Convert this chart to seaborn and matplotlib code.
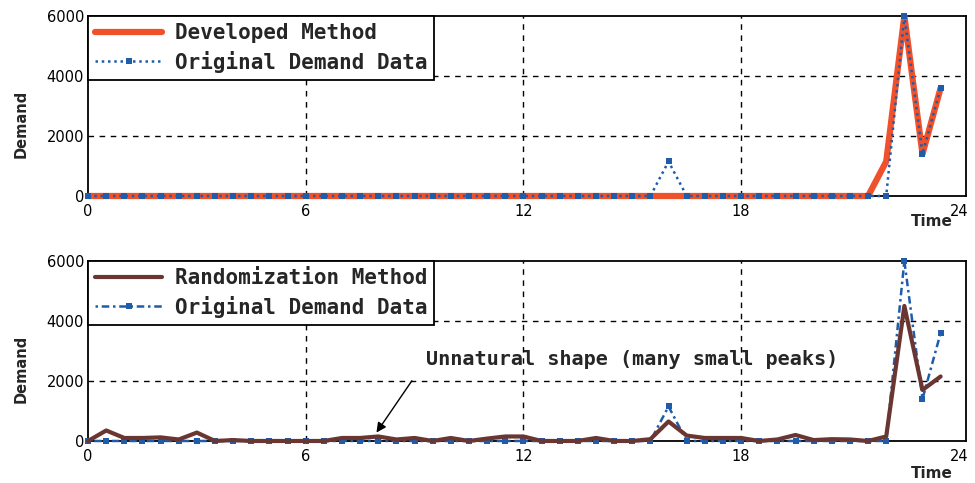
import numpy as np
import pandas as pd
import matplotlib
matplotlib.use("Agg")
import matplotlib.pyplot as plt
import seaborn as sns

# half-hour time steps
time = [0.0, 0.5, 1.0, 1.5, 2.0, 2.5, 3.0, 3.5, 4.0, 4.5, 5.0, 5.5,
        6.0, 6.5, 7.0, 7.5, 8.0, 8.5, 9.0, 9.5, 10.0, 10.5, 11.0, 11.5,
        12.0, 12.5, 13.0, 13.5, 14.0, 14.5, 15.0, 15.5, 16.0, 16.5, 17.0, 17.5,
        18.0, 18.5, 19.0, 19.5, 20.0, 20.5, 21.0, 21.5, 22.0, 22.5, 23.0, 23.5]

original = [0, 0, 0, 0, 0, 0, 0, 0, 0, 0, 0, 0,
            0, 0, 0, 0, 0, 0, 0, 0, 0, 0, 0, 0,
            0, 0, 0, 0, 0, 0, 0, 0, 1150, 0, 0, 0,
            0, 0, 0, 0, 0, 0, 0, 0, 0, 6000, 1400, 3600]

developed = [0, 0, 0, 0, 0, 0, 0, 0, 0, 0, 0, 0,
             0, 0, 0, 0, 0, 0, 0, 0, 0, 0, 0, 0,
             0, 0, 0, 0, 0, 0, 0, 0, 0, 0, 0, 0,
             0, 0, 0, 0, 0, 0, 0, 0, 1150, 6000, 1400, 3600]

randomized = [0, 350, 100, 100, 120, 50, 280, 0, 30, 0, 0, 0,
              0, 0, 100, 100, 150, 50, 100, 0, 100, 0, 80, 150,
              150, 0, 0, 0, 100, 0, 0, 60, 650, 180, 100, 100,
              100, 0, 50, 200, 30, 60, 50, 0, 150, 4500, 1700, 2150]

df = pd.DataFrame({"Time": time, "Original": original,
                   "Developed": developed, "Randomized": randomized})

sns.set_style("white")
plt.rcParams["font.family"] = ["DejaVu Sans"]

ORANGE = "#F0502A"
BLUE = "#1F5CAA"
BROWN = "#6A3631"
leg_font = {"family": "DejaVu Sans Mono", "weight": "bold", "size": 15}

fig = plt.figure(figsize=(9.75, 4.83), dpi=100)
ax1 = fig.add_axes([0.0903, 0.5942, 0.9005, 0.3727])
ax2 = fig.add_axes([0.0903, 0.087, 0.9005, 0.3727])

sns.lineplot(data=df, x="Time", y="Developed", ax=ax1, color=ORANGE,
             linewidth=4.5, label="Developed Method", clip_on=False, zorder=3)
sns.lineplot(data=df, x="Time", y="Original", ax=ax1, color=BLUE,
             linewidth=1.8, linestyle=(0, (1, 1.5)), marker="s", markersize=4,
             markeredgewidth=0, label="Original Demand Data", clip_on=False, zorder=4)

sns.lineplot(data=df, x="Time", y="Randomized", ax=ax2, color=BROWN,
             linewidth=3, label="Randomization Method", clip_on=False, zorder=4)
sns.lineplot(data=df, x="Time", y="Original", ax=ax2, color=BLUE,
             linewidth=1.8, linestyle=(0, (1, 1.5, 3, 1.5)), marker="s", markersize=4,
             markeredgewidth=0, label="Original Demand Data", clip_on=False, zorder=3)

for ax in (ax1, ax2):
    ax.set_xlim(0, 24.2)
    ax.set_ylim(0, 6000)
    ax.set_xticks([0, 6, 12, 18, 24])
    ax.set_yticks([0, 2000, 4000, 6000])
    ax.tick_params(direction="in", length=4, labelsize=10.5, pad=3, colors="black")
    ax.tick_params(axis="x", pad=6)
    for s in ax.spines.values():
        s.set_color("black")
        s.set_linewidth(1.3)
    for gx in [6, 12, 18]:
        ax.axvline(gx, color="black", linestyle=(0, (4, 4)), linewidth=1, zorder=1)
    for gy in [2000, 4000]:
        ax.axhline(gy, color="black", linestyle=(0, (4, 4)), linewidth=1, zorder=1)
    ax.set_xlabel("")
    ax.set_ylabel("Demand", fontsize=10.5, fontweight="bold")
    ax.yaxis.set_label_coords(-0.068, 0.4)
    leg = ax.legend(loc="upper left", prop=leg_font, frameon=True, fancybox=False,
                    framealpha=1, borderaxespad=0, handlelength=3.2, borderpad=0.35,
                    labelspacing=0.35, handletextpad=0.6)
    leg.get_frame().set_edgecolor("black")
    leg.get_frame().set_linewidth(1.3)
    leg.set_zorder(6)

ax1.text(0.961, -0.10, "Time", transform=ax1.transAxes, ha="center", va="top",
         fontsize=11, fontweight="bold")
ax2.text(0.961, -0.14, "Time", transform=ax2.transAxes, ha="center", va="top",
         fontsize=11, fontweight="bold")

ax2.annotate("Unnatural shape (many small peaks)", xy=(7.95, 280), xytext=(15.0, 2700),
             ha="center", va="center", fontfamily="DejaVu Sans Mono",
             fontweight="bold", fontsize=14.5,
             arrowprops=dict(arrowstyle="-|>", color="black", lw=1, shrinkA=14, shrinkB=0,
                             relpos=(0.0, 0.5)))

fig.savefig("out.png", dpi=100)
